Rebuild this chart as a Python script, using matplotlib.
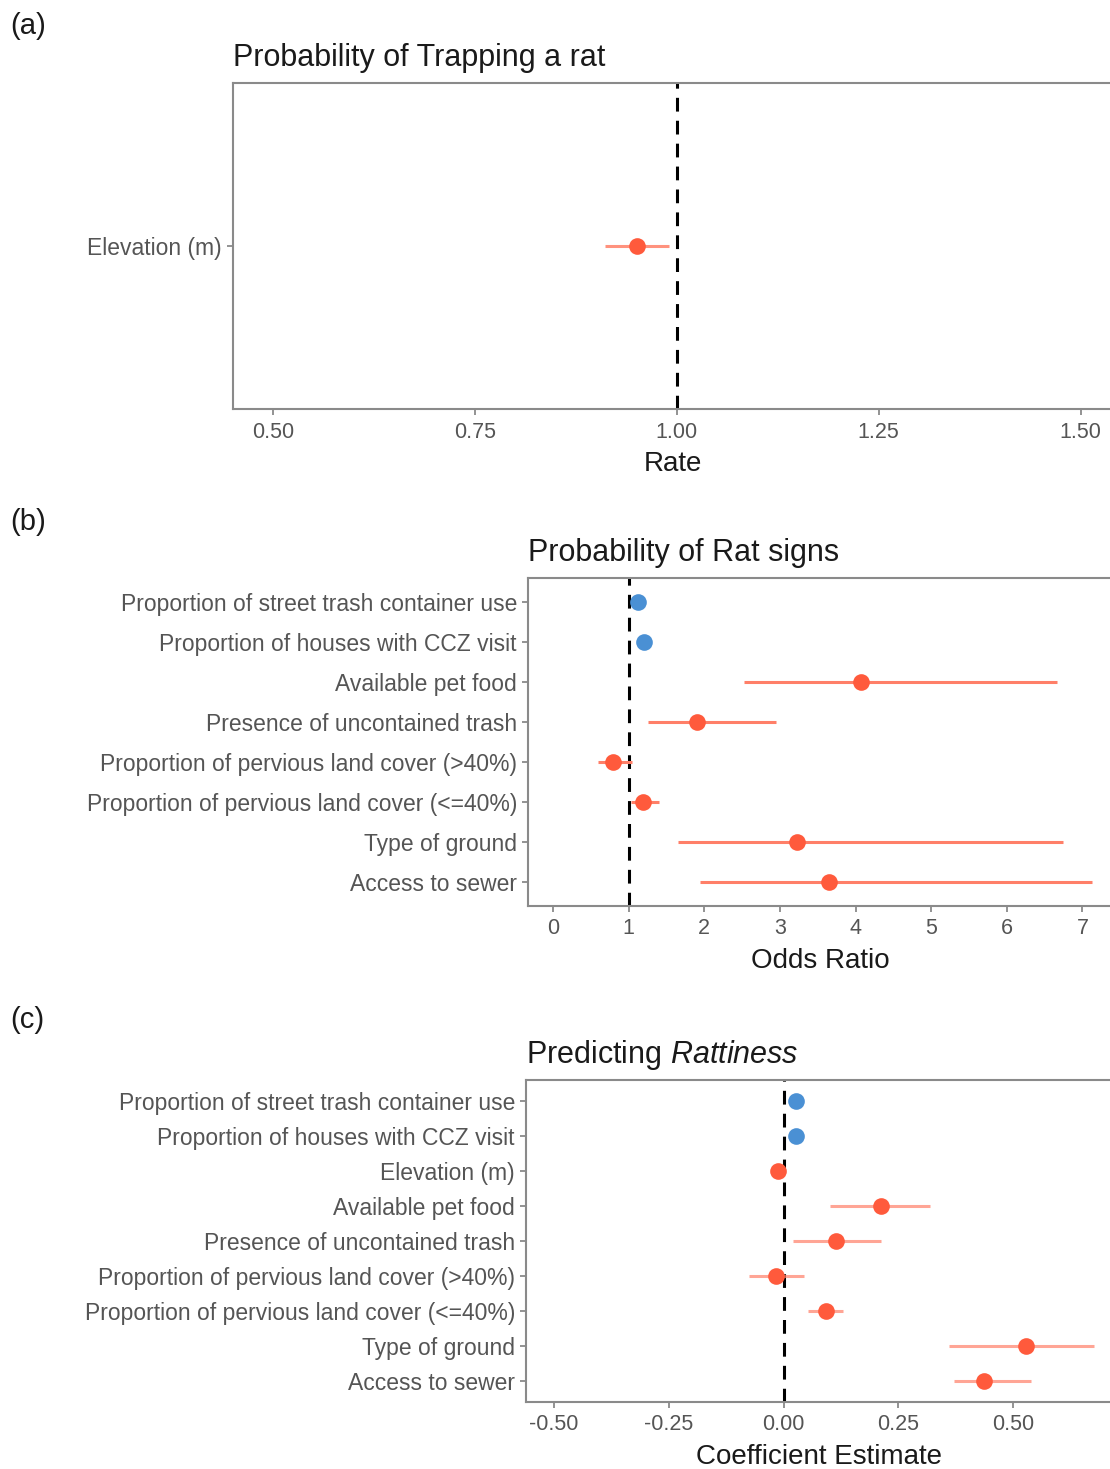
import matplotlib.pyplot as plt

plt.rcParams['font.family'] = ['Liberation Sans', 'DejaVu Sans']
plt.rcParams['mathtext.fontset'] = 'custom'
plt.rcParams['mathtext.it'] = 'Liberation Sans:italic'
plt.rcParams['mathtext.rm'] = 'Liberation Sans'

RED = '#ff5a3c'
RED_LINE = '#ff7f68'
BLUE = '#4a90d4'
FRAME = '#8a8a8a'
LABEL = '#555555'

# panel (a): probability of trapping a rat
a_labels = ['Elevation (m)']
a_est = [0.951]
a_lo = [0.911]
a_hi = [0.990]
a_ticks = [0.50, 0.75, 1.00, 1.25, 1.50]

# panel (b): probability of rat signs (odds ratios), top to bottom
b_labels = ['Proportion of street trash container use',
            'Proportion of houses with CCZ visit',
            'Available pet food',
            'Presence of uncontained trash',
            'Proportion of pervious land cover (>40%)',
            'Proportion of pervious land cover (<=40%)',
            'Type of ground',
            'Access to sewer']
b_est = [1.12, 1.21, 4.07, 1.90, 0.80, 1.19, 3.23, 3.65]
b_lo = [1.10, 1.19, 2.53, 1.25, 0.60, 1.03, 1.65, 1.94]
b_hi = [1.14, 1.23, 6.66, 2.95, 1.04, 1.40, 6.74, 7.13]
b_blue = [True, True, False, False, False, False, False, False]
b_ticks = [0, 1, 2, 3, 4, 5, 6, 7]

# panel (c): predicting rattiness (coefficients), top to bottom
c_labels = ['Proportion of street trash container use',
            'Proportion of houses with CCZ visit',
            'Elevation (m)',
            'Available pet food',
            'Presence of uncontained trash',
            'Proportion of pervious land cover (>40%)',
            'Proportion of pervious land cover (<=40%)',
            'Type of ground',
            'Access to sewer']
c_est = [0.027, 0.027, -0.012, 0.211, 0.113, -0.016, 0.092, 0.528, 0.436]
c_lo = [0.022, 0.022, -0.016, 0.100, 0.020, -0.076, 0.053, 0.361, 0.370]
c_hi = [0.032, 0.032, -0.008, 0.318, 0.211, 0.045, 0.130, 0.675, 0.538]
c_blue = [True, True, False, False, False, False, False, False, False]
c_ticks = [-0.50, -0.25, 0.00, 0.25, 0.50]

W, H = 1110, 1469
fig = plt.figure(figsize=(W / 100, H / 100), dpi=100)


def px_axes(left, top, right, bottom):
    return fig.add_axes([left / W, 1 - bottom / H, (right - left) / W, (bottom - top) / H])


def forest(ax, labels, est, lo, hi, blue, ref, xlim, ticks, fmt, xlabel, title, line_alpha):
    n = len(labels)
    ys = list(range(n, 0, -1))
    for y, e, l, h, b in zip(ys, est, lo, hi, blue):
        if not b:
            ax.plot([l, h], [y, y], color=RED_LINE, lw=2.2, alpha=line_alpha,
                    solid_capstyle='butt', zorder=2)
        ax.plot(e, y, 'o', color=BLUE if b else RED, ms=12, mec='none', zorder=3)
    ax.axvline(ref, color='black', ls=(0, (4.5, 3)), lw=2.2, zorder=1)
    ax.set_xlim(*xlim)
    ax.set_ylim(0.4, n + 0.6)
    ax.set_yticks(ys)
    ax.set_yticklabels(labels)
    ax.set_xticks(ticks)
    ax.set_xticklabels([fmt.format(t) for t in ticks])
    ax.tick_params(axis='both', colors=FRAME, labelcolor=LABEL,
                   length=4, width=1.3, pad=4)
    ax.tick_params(axis='x', labelsize=15.5, pad=5)
    ax.tick_params(axis='y', labelsize=16.5)
    for s in ax.spines.values():
        s.set_color(FRAME)
        s.set_linewidth(1.5)
    ax.set_xlabel(xlabel, fontsize=20, color='#1a1a1a', labelpad=6)
    ax.set_title(title, loc='left', fontsize=22, color='#1a1a1a', pad=12)


ax_a = px_axes(233, 83, 1112, 409)
forest(ax_a, a_labels, a_est, a_lo, a_hi, [False], 1.0, (0.4505, 1.539),
       a_ticks, '{:.2f}', 'Rate', 'Probability of Trapping a rat', 0.85)

ax_b = px_axes(528, 578, 1112, 906)
forest(ax_b, b_labels, b_est, b_lo, b_hi, b_blue, 1.0, (-0.33, 7.39),
       b_ticks, '{:d}', 'Odds Ratio', 'Probability of Rat signs', 1.0)

ax_c = px_axes(526, 1080, 1112, 1402)
forest(ax_c, c_labels, c_est, c_lo, c_hi, c_blue, 0.0, (-0.561, 0.715),
       c_ticks, '{:.2f}', 'Coefficient Estimate', r'Predicting $\mathit{Rattiness}$', 0.7)

for lab, y in [('(a)', 26), ('(b)', 522), ('(c)', 1020)]:
    fig.text(10 / W, 1 - y / H, lab, fontsize=21, color='#1a1a1a', va='center', ha='left')

fig.savefig('out.png', dpi=100)
